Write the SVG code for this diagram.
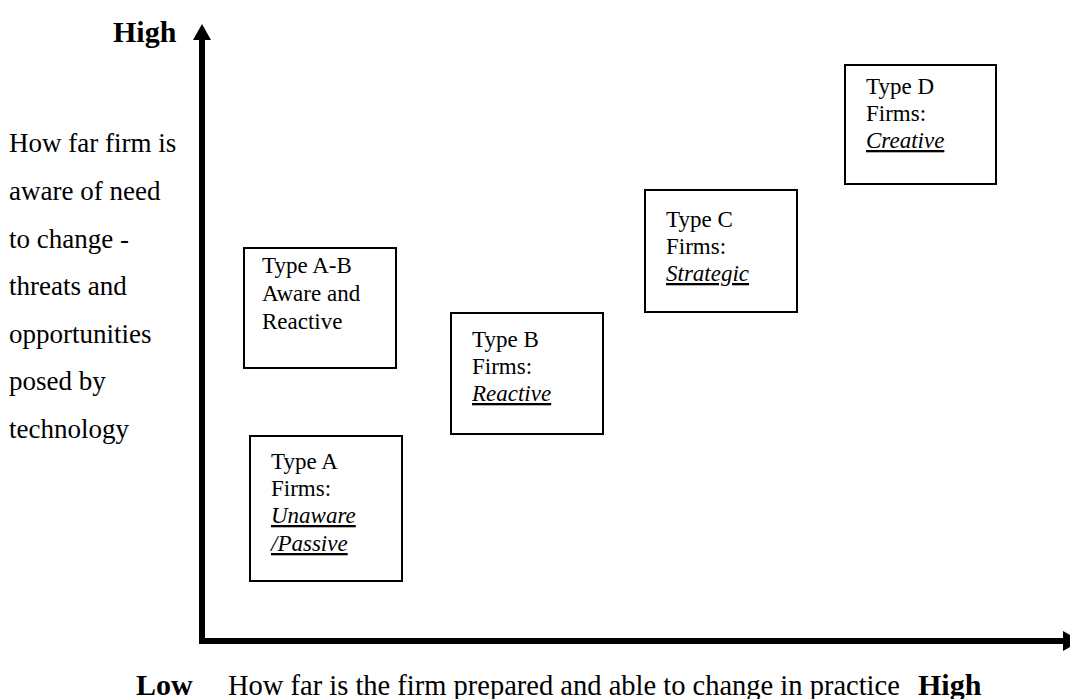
<svg xmlns="http://www.w3.org/2000/svg" width="1070" height="699" viewBox="0 0 1070 699">
<style>
text { font-family: "Liberation Serif", "Times New Roman", serif; fill: #000; }
.ax { font-size: 30px; font-weight: bold; }
.lbl { font-size: 27px; }
.bot { font-size: 28.5px; }
.bx { font-size: 23px; }
.em { font-style: italic; text-decoration: underline; text-decoration-thickness: 2px; text-underline-offset: 4px; }
.box { fill: #fff; stroke: #000; stroke-width: 2; }
.axis { fill: none; stroke: #000; stroke-width: 6; stroke-linejoin: miter; }
</style>
<rect width="1070" height="699" fill="#fff"/>
<g id="connectors">
  <path class="axis" d="M202,38 V641 H1064"/>
  <polygon points="202,24 211,40 193,40" fill="#000"/>
  <polygon points="1063,631 1063,651 1081,641" fill="#000"/>
</g>
<g id="axis-labels">
  <text class="ax" x="113" y="42">High</text>
  <text class="lbl" x="9" y="152">How far firm is</text>
  <text class="lbl" x="9" y="200">aware of need</text>
  <text class="lbl" x="9" y="248">to change -</text>
  <text class="lbl" x="9" y="295">threats and</text>
  <text class="lbl" x="9" y="343">opportunities</text>
  <text class="lbl" x="9" y="390">posed by</text>
  <text class="lbl" x="9" y="438">technology</text>
  <text class="ax" x="136" y="695">Low</text>
  <text class="bot" x="228" y="695">How far is the firm prepared and able to change in practice</text>
  <text class="ax" x="918" y="695">High</text>
</g>
<g id="node-ab">
  <rect class="box" x="244" y="248" width="152" height="120"/>
  <text class="bx" x="262" y="273">Type A-B</text>
  <text class="bx" x="262" y="301">Aware and</text>
  <text class="bx" x="262" y="329">Reactive</text>
</g>
<g id="node-a">
  <rect class="box" x="250" y="436" width="152" height="145"/>
  <text class="bx" x="271" y="469">Type A</text>
  <text class="bx" x="271" y="496">Firms:</text>
  <text class="bx em" x="271" y="523">Unaware</text>
  <text class="bx em" x="271" y="551">/Passive</text>
</g>
<g id="node-b">
  <rect class="box" x="451" y="313" width="152" height="121"/>
  <text class="bx" x="472" y="347">Type B</text>
  <text class="bx" x="472" y="374">Firms:</text>
  <text class="bx em" x="472" y="401">Reactive</text>
</g>
<g id="node-c">
  <rect class="box" x="645" y="190" width="152" height="122"/>
  <text class="bx" x="666" y="227">Type C</text>
  <text class="bx" x="666" y="254">Firms:</text>
  <text class="bx em" x="666" y="281">Strategic</text>
</g>
<g id="node-d">
  <rect class="box" x="845" y="65" width="151" height="119"/>
  <text class="bx" x="866" y="94">Type D</text>
  <text class="bx" x="866" y="121">Firms:</text>
  <text class="bx em" x="866" y="148">Creative</text>
</g>
</svg>
